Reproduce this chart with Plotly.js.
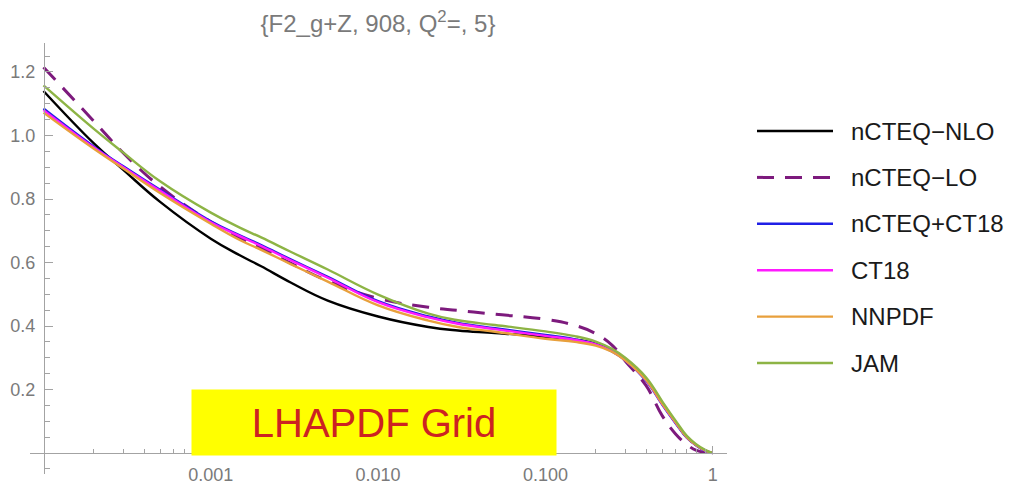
<!DOCTYPE html>
<html>
<head>
<meta charset="utf-8">
<script src="https://cdn.plot.ly/plotly-3.0.1.min.js"></script>
<style>html,body{margin:0;padding:0;background:#fff;}#chart{width:1011px;height:485px;}</style>
</head>
<body>
<div id="chart"></div>
<script>
// x values (momentum fraction)
const xs = [1e-4, 2e-4, 3e-4, 5e-4, 1e-3, 1.5e-3, 2e-3, 3e-3, 5e-3, 0.01, 0.02, 0.03, 0.05, 0.1, 0.15, 0.2, 0.25, 0.3, 0.4, 0.5, 0.6, 0.7, 0.8, 0.9, 1.0];

const nCTEQ_NLO  = [1.14, 0.975, 0.892, 0.79, 0.675, 0.622, 0.588, 0.537, 0.48, 0.43, 0.397, 0.386, 0.378, 0.366, 0.357, 0.344, 0.323, 0.295, 0.233, 0.158, 0.097, 0.05, 0.024, 0.008, 0];
const nCTEQ_LO   = [1.215, 1.045, 0.945, 0.838, 0.728, 0.678, 0.646, 0.598, 0.542, 0.487, 0.459, 0.449, 0.437, 0.421, 0.402, 0.376, 0.34, 0.29, 0.212, 0.117, 0.06, 0.027, 0.008, 0.002, 0];
const nCTEQ_CT18 = [1.085, 0.965, 0.903, 0.828, 0.73, 0.685, 0.655, 0.61, 0.555, 0.478, 0.43, 0.41, 0.393, 0.372, 0.358, 0.342, 0.32, 0.292, 0.228, 0.152, 0.094, 0.048, 0.023, 0.007, 0];
const CT18       = [1.08, 0.962, 0.9, 0.825, 0.727, 0.682, 0.652, 0.607, 0.552, 0.475, 0.427, 0.407, 0.39, 0.369, 0.356, 0.342, 0.321, 0.293, 0.23, 0.154, 0.096, 0.05, 0.024, 0.008, 0];
const NNPDF      = [1.072, 0.958, 0.896, 0.818, 0.722, 0.67, 0.64, 0.595, 0.54, 0.465, 0.417, 0.397, 0.382, 0.36, 0.35, 0.338, 0.319, 0.292, 0.23, 0.155, 0.097, 0.05, 0.024, 0.008, 0];
const JAM        = [1.158, 1.021, 0.946, 0.855, 0.757, 0.709, 0.679, 0.634, 0.578, 0.499, 0.439, 0.418, 0.403, 0.383, 0.368, 0.351, 0.328, 0.3, 0.238, 0.162, 0.102, 0.054, 0.027, 0.01, 0];

const seriesNames = ["nCTEQ\u2212NLO", "nCTEQ\u2212LO", "nCTEQ+CT18", "CT18", "NNPDF", "JAM"];
const seriesData = [nCTEQ_NLO, nCTEQ_LO, nCTEQ_CT18, CT18, NNPDF, JAM];
const seriesColors = ["#000000", "#7d1a7d", "#1f1fe6", "#ff1aff", "#e8a03c", "#8db445"];
const seriesDash = ["solid", "17px,11px", "solid", "solid", "solid", "solid"];

const xTickVals = [0.001, 0.01, 0.1, 1];
const xTickText = ["0.001", "0.010", "0.100", "1"];
const yTickVals = [0.2, 0.4, 0.6, 0.8, 1.0, 1.2];
const yTickText = ["0.2", "0.4", "0.6", "0.8", "1.0", "1.2"];

const titleText = "{F2_g+Z, 908, Q<sup>2</sup>=, 5}";
const boxText = "LHAPDF Grid";

// layout geometry (pixels)
const W = 1011, H = 485;
const L = 30, R = 727, T = 43, B = 474;
const pw = R - L, ph = B - T;
const px2paperX = p => (p - L) / pw;
const px2paperY = p => (B - p) / ph;

const minorX = [];
for (let k = -4; k <= -1; k++) for (let m = 2; m <= 9; m++) minorX.push(m * Math.pow(10, k));

const traces = seriesData.map((ys, i) => ({
  x: xs, y: ys, type: "scatter", mode: "lines", name: seriesNames[i],
  line: {color: seriesColors[i], width: i === 1 ? 3 : 2.4, dash: seriesDash[i], shape: "spline", smoothing: 1.2},
  hoverinfo: "skip"
}));

const axisColor = "#a3a3a3";
const labelColor = "#7a7a7a";

const shapes = [];
const annotations = [];
seriesNames.forEach((n, i) => {
  const rowY = 131 + i * 46.4;
  shapes.push({type: "line", xref: "paper", yref: "paper",
    x0: px2paperX(757), x1: px2paperX(833), y0: px2paperY(rowY), y1: px2paperY(rowY),
    line: {color: seriesColors[i], width: i === 1 ? 3 : 2.4, dash: seriesDash[i]}});
  annotations.push({xref: "paper", yref: "paper", x: px2paperX(849), y: px2paperY(rowY),
    xanchor: "left", yanchor: "middle", showarrow: false, text: n,
    font: {family: "Liberation Sans, Arial, sans-serif", size: 24, color: "#1a1a1a"}});
});

annotations.push({xref: "paper", yref: "paper", x: px2paperX(374), y: px2paperY(422.5),
  xanchor: "center", yanchor: "middle", showarrow: false, text: boxText,
  width: 364, height: 65, bgcolor: "#ffff00", borderpad: 0,
  font: {family: "Liberation Sans, Arial, sans-serif", size: 40, color: "#cc2222"}});

const layout = {
  width: W, height: H,
  margin: {l: L, r: W - R, t: T, b: H - B, pad: 0},
  paper_bgcolor: "#ffffff", plot_bgcolor: "#ffffff",
  showlegend: false,
  font: {family: "Liberation Sans, Arial, sans-serif", color: labelColor},
  title: {text: titleText, x: px2paperX(378), xref: "paper", xanchor: "center",
    y: 1 - 24 / H, yref: "container", yanchor: "middle",
    font: {family: "Liberation Sans, Arial, sans-serif", size: 24, color: labelColor}},
  xaxis: {
    type: "log", range: [-4.0807, 0.0855], anchor: "free", position: px2paperY(453),
    showline: true, linecolor: axisColor, linewidth: 1.3,
    showgrid: false, zeroline: false,
    ticks: "inside", ticklen: 7, tickwidth: 1, tickcolor: axisColor,
    tickmode: "array", tickvals: xTickVals, ticktext: xTickText,
    tickfont: {size: 18, color: labelColor}, ticklabelstandoff: 5,
    minor: {ticks: "inside", ticklen: 4, tickwidth: 1, tickcolor: axisColor, tickmode: "array", tickvals: minorX, showgrid: false}
  },
  yaxis: {
    range: [-0.0661, 1.2913], anchor: "free", position: px2paperX(44),
    showline: true, linecolor: axisColor, linewidth: 1.3,
    showgrid: false, zeroline: false,
    ticks: "inside", ticklen: 8, tickwidth: 1, tickcolor: axisColor,
    tickmode: "array", tickvals: yTickVals, ticktext: yTickText,
    tickfont: {size: 18, color: labelColor}, ticklabelstandoff: 5,
    minor: {ticks: "inside", ticklen: 5, tickwidth: 1, tickcolor: axisColor, dtick: 0.05, tick0: 0, showgrid: false}
  },
  shapes: shapes,
  annotations: annotations
};

Plotly.newPlot("chart", traces, layout, {staticPlot: true, displayModeBar: false});
</script>
</body>
</html>
